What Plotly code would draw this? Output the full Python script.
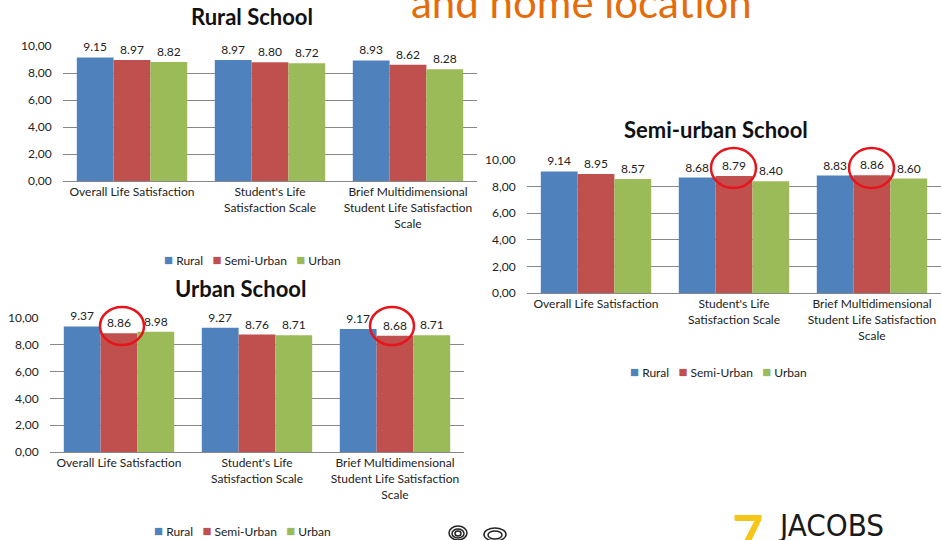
import plotly.graph_objects as go

categories = ["Overall Life Satisfaction",
              "Student's Life<br>Satisfaction Scale",
              "Brief Multidimensional<br>Student Life Satisfaction<br>Scale"]
series_names = ["Rural", "Semi-Urban", "Urban"]
colors = ["#4F81BD", "#C0504D", "#9BBB59"]

rural_school = {"Rural": [9.15, 8.97, 8.93], "Semi-Urban": [8.97, 8.80, 8.62], "Urban": [8.82, 8.72, 8.28]}
semi_school = {"Rural": [9.14, 8.68, 8.83], "Semi-Urban": [8.95, 8.79, 8.86], "Urban": [8.57, 8.40, 8.60]}
urban_school = {"Rural": [9.37, 9.27, 9.17], "Semi-Urban": [8.86, 8.76, 8.68], "Urban": [8.98, 8.71, 8.71]}

y_ticks = [0, 2, 4, 6, 8, 10]

W, H = 941, 540
FONT = "Lato, Open Sans, sans-serif"

def px_x(p):
    return p / W

def px_y(p):
    return 1 - p / H

panels = [
    (rural_school, "Rural School", "x", "y", (63, 477), (46, 181), (252, 16), (253, 259)),
    (semi_school, "Semi-urban School", "x2", "y2", (527, 941), (160, 293), (716, 130), (718, 371)),
    (urban_school, "Urban School", "x3", "y3", (50, 464), (318, 452), (240, 288), (242, 530)),
]

fig = go.Figure()
layout = dict(
    width=W, height=H, margin=dict(l=0, r=0, t=0, b=0, autoexpand=False),
    paper_bgcolor="white", plot_bgcolor="white",
    barmode="group", bargap=0.2, bargroupgap=0,
    separators=",.", showlegend=False,
    font=dict(family=FONT, size=12, color="#222222"),
    annotations=[], shapes=[],
)

for data, title, xa, ya, xd, yd, tpos, lpos in panels:
    for name, col in zip(series_names, colors):
        vals = data[name]
        fig.add_trace(go.Bar(
            x=categories, y=vals, name=name, marker=dict(color=col, line=dict(width=0)),
            text=[f"{v:.2f}" for v in vals], textposition="outside", cliponaxis=False,
            textfont=dict(size=12, color="#222222"),
            xaxis=xa, yaxis=ya, hoverinfo="skip",
        ))
    ax_key = "xaxis" + xa[1:]
    ay_key = "yaxis" + ya[1:]
    layout[ax_key] = dict(domain=[px_x(xd[0]), px_x(xd[1])], anchor=ya, automargin=False,
                          showline=True, linecolor="#888888", linewidth=1,
                          ticks="", showgrid=False, tickfont=dict(size=12), fixedrange=True)
    layout[ay_key] = dict(domain=[px_y(yd[1]), px_y(yd[0])], anchor=xa, range=[0, 10], automargin=False,
                          tickvals=y_ticks, tickformat=".2f", showgrid=True,
                          gridcolor="#888888", gridwidth=1, zeroline=False, showline=False,
                          ticks="outside", ticklen=8, tickcolor="rgba(0,0,0,0)",
                          tickfont=dict(size=12), fixedrange=True)
    layout["annotations"].append(dict(
        text="<b>" + title + "</b>", x=px_x(tpos[0]), y=px_y(tpos[1]), xref="paper", yref="paper",
        showarrow=False, font=dict(size=22, color="#111111", family=FONT), xanchor="center", yanchor="middle"))
    # legend drawn as a text row of coloured squares + names
    leg = "   ".join(f'<span style="color:{c};font-size:15px">■</span> {n}' for n, c in zip(series_names, colors))
    layout["annotations"].append(dict(
        text=leg, x=px_x(lpos[0]), y=px_y(lpos[1]), xref="paper", yref="paper",
        showarrow=False, xanchor="center", yanchor="middle", font=dict(size=12, color="#222222")))

# Slide title (partially visible)
layout["annotations"].append(dict(
    text="and home location", x=px_x(409), y=px_y(29), xref="paper", yref="paper",
    xanchor="left", yanchor="bottom", showarrow=False,
    font=dict(size=42, color="#E46C0A", family=FONT)))

# Logo text
layout["annotations"].append(dict(
    text="<b>7</b>", x=px_x(747), y=px_y(499), xref="paper", yref="paper",
    xanchor="center", yanchor="top", showarrow=False,
    font=dict(size=54, color="#F5C518", family=FONT)))
layout["annotations"].append(dict(
    text="JACOBS", x=px_x(776), y=px_y(505), xref="paper", yref="paper",
    xanchor="left", yanchor="top", showarrow=False,
    font=dict(size=31, color="#1a1a1a", family="Liberation Sans Narrow, DejaVu Sans Condensed, Roboto")))

# Red highlight circles
circles_px = [(711, 148, 756, 188), (849, 148, 894, 188), (100, 307, 144, 345), (370, 307, 414, 345)]
for x0, y0, x1, y1 in circles_px:
    layout["shapes"].append(dict(type="circle", xref="paper", yref="paper",
                                 x0=px_x(x0), x1=px_x(x1), y0=px_y(y1), y1=px_y(y0),
                                 line=dict(color="#E8141B", width=2.5)))

# small swirl logos at the bottom
swirls_px = [(449, 526, 467, 540), (452, 529, 464, 538), (455, 531, 461, 536),
             (484, 528, 506, 541), (488, 531, 502, 539)]
for x0, y0, x1, y1 in swirls_px:
    layout["shapes"].append(dict(type="circle", xref="paper", yref="paper",
                                 x0=px_x(x0), x1=px_x(x1), y0=px_y(y1), y1=px_y(y0),
                                 line=dict(color="#222222", width=1.5)))

fig.update_layout(**layout)
fig.write_html("out.html", config={"displayModeBar": False},
               post_script="document.body.style.margin='0';document.body.style.overflow='hidden';")
